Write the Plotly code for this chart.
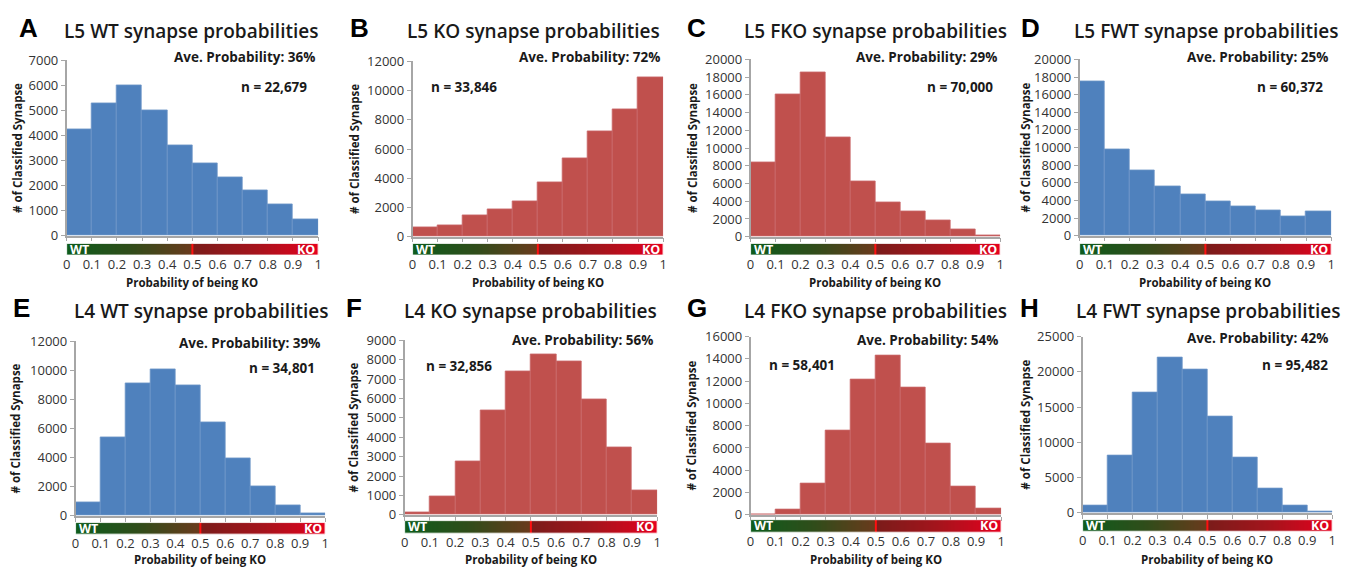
import plotly.graph_objects as go

W, H = 1361, 580

# ---------------- data ----------------
BIN_CENTERS = [0.05, 0.15, 0.25, 0.35, 0.45, 0.55, 0.65, 0.75, 0.85, 0.95]
TICK_VALS = [0, 0.1, 0.2, 0.3, 0.4, 0.5, 0.6, 0.7, 0.8, 0.9, 1]
TICK_TEXT = ["0", "0.1", "0.2", "0.3", "0.4", "0.5", "0.6", "0.7", "0.8", "0.9", "1"]
THRESHOLD = 0.5

LETTERS = ["A", "B", "C", "D", "E", "F", "G", "H"]
TITLES = ["L5 WT synapse probabilities", "L5 KO synapse probabilities",
          "L5 FKO synapse probabilities", "L5 FWT synapse probabilities",
          "L4 WT synapse probabilities", "L4 KO synapse probabilities",
          "L4 FKO synapse probabilities", "L4 FWT synapse probabilities"]
AVE_TEXT = ["Ave. Probability: 36%", "Ave. Probability: 72%", "Ave. Probability: 29%",
            "Ave. Probability: 25%", "Ave. Probability: 39%", "Ave. Probability: 56%",
            "Ave. Probability: 54%", "Ave. Probability: 42%"]
N_TEXT = ["n = 22,679", "n = 33,846", "n = 70,000", "n = 60,372",
          "n = 34,801", "n = 32,856", "n = 58,401", "n = 95,482"]

L5_WT = [4250, 5300, 6000, 5000, 3600, 2900, 2350, 1800, 1250, 650]
L5_KO = [650, 800, 1450, 1850, 2400, 3700, 5350, 7200, 8700, 10900]
L5_FKO = [8400, 16000, 18500, 11200, 6200, 3900, 2900, 1800, 850, 150]
L5_FWT = [17500, 9850, 7450, 5600, 4650, 3950, 3300, 2850, 2200, 2750]
L4_WT = [900, 5400, 9100, 10100, 9000, 6400, 3950, 2000, 750, 150]
L4_KO = [100, 950, 2750, 5400, 7400, 8300, 7900, 5950, 3500, 1250]
L4_FKO = [0, 450, 2850, 7600, 12100, 14300, 11400, 6400, 2550, 550]
L4_FWT = [1000, 8100, 17100, 22000, 20300, 13700, 7800, 3400, 1100, 250]
SERIES = [L5_WT, L5_KO, L5_FKO, L5_FWT, L4_WT, L4_KO, L4_FKO, L4_FWT]

Y_MAX = [7000, 12000, 20000, 20000, 12000, 9000, 16000, 25000]
Y_DTICK = [1000, 2000, 2000, 2000, 2000, 1000, 2000, 5000]

# ---------------- styling / layout (pixels) ----------------
BLUE, BLUE_EDGE = "#4f81bd", "#6d95c8"
RED, RED_EDGE = "#c0504d", "#c9676a"
COLORS = [(BLUE, BLUE_EDGE), (RED, RED_EDGE), (RED, RED_EDGE), (BLUE, BLUE_EDGE),
          (BLUE, BLUE_EDGE), (RED, RED_EDGE), (RED, RED_EDGE), (BLUE, BLUE_EDGE)]

# plot area: x0, x1, ytop, ybottom ; colour bar: top, bottom
PLOT = [(63, 316, 53, 234), (411, 663, 54, 235), (751, 1002, 52, 235), (1082, 1335, 52, 234),
        (72, 323, 343, 523), (403, 657, 342, 522), (751, 1003, 338, 522), (1085, 1336, 338, 520)]
CBAR = [(242, 254), (242, 254), (242, 254), (242, 254),
        (530, 542), (528, 541), (527, 540), (527, 539)]
TITLE_POS = [(188, 23), (533, 23), (877, 23), (1210, 23),
             (198, 312), (530, 312), (877, 312), (1212, 312)]
LETTER_POS = [(25, 20), (358, 20), (697, 20), (1033, 20),
              (18, 309), (352, 309), (697, 309), (1032, 309)]
AVE_POS = [(315, 50), (662, 50), (1001, 50), (1334, 50),
           (320, 345), (655, 342), (1002, 342), (1334, 340)]
N_POS = [(307, 80, "right"), (428, 80, "left"), (997, 80, "right"), (1329, 80, "right"),
         (315, 371, "right"), (422, 368, "left"), (768, 367, "left"), (1334, 367, "right")]
YT_X = [13, 352, 692, 1028, 12, 352, 692, 1028]
XT_Y = [282, 282, 282, 282, 568, 568, 568, 568]

FONT = "Open Sans"
TXT = "#1a1a1a"
TICK_C = "#333333"
GRID = "#a6a6a6"


def px(x):
    return x / W


def py(y):
    return 1 - y / H


CSCALE = [[0.0, "#0d5c1c"], [0.25, "#2f4d1a"], [0.5, "#6a3a1c"],
          [0.5001, "#7a1c1a"], [0.75, "#a5141c"], [1.0, "#e6001e"]]
GRAD_X = [(i + 0.5) / 200 for i in range(200)]

fig = go.Figure()
layout = dict(width=W, height=H, margin=dict(l=0, r=0, t=0, b=0),
              paper_bgcolor="white", plot_bgcolor="white", showlegend=False,
              font=dict(family=FONT, color=TXT))
annotations = []
shapes = []

for i in range(8):
    m = i + 1
    c = i + 9
    x0, x1, yt, yb = PLOT[i]
    ct, cb = CBAR[i]
    fill, edge = COLORS[i]

    fig.add_trace(go.Bar(x=BIN_CENTERS, y=SERIES[i], width=0.1,
                         marker=dict(color=fill, line=dict(color=edge, width=0.8)),
                         xaxis=f"x{m}", yaxis=f"y{m}", hoverinfo="x+y"))
    fig.add_trace(go.Heatmap(x=GRAD_X, y=[0], z=[GRAD_X], colorscale=CSCALE,
                             zmin=0, zmax=1, showscale=False,
                             xaxis=f"x{c}", yaxis=f"y{c}", hoverinfo="skip"))

    k = "" if m == 1 else str(m)
    layout[f"xaxis{k}"] = dict(domain=[px(x0), px(x1)], anchor=f"y{m}", range=[0, 1],
                               showline=True, linecolor=GRID, linewidth=1.5,
                               ticks="outside", ticklen=4, tickcolor=GRID,
                               tickvals=TICK_VALS, showticklabels=False,
                               showgrid=False, zeroline=False, fixedrange=True)
    layout[f"yaxis{m}"] = dict(domain=[py(yb), py(yt)], anchor=f"x{m}",
                               range=[0, Y_MAX[i]], dtick=Y_DTICK[i], tickformat="d",
                               showline=True, linecolor=GRID, linewidth=1.5,
                               ticks="outside", ticklen=4, tickcolor=GRID,
                               tickfont=dict(size=13, color=TICK_C),
                               showgrid=False, zeroline=False, fixedrange=True)
    layout[f"xaxis{c}"] = dict(domain=[px(x0), px(x1)], anchor=f"y{c}", range=[0, 1],
                               tickvals=TICK_VALS, ticktext=TICK_TEXT, ticks="",
                               tickfont=dict(size=13, color=TICK_C),
                               showline=False, showgrid=False, zeroline=False,
                               fixedrange=True)
    layout[f"yaxis{c}"] = dict(domain=[py(cb), py(ct)], anchor=f"x{c}",
                               range=[-0.5, 0.5], visible=False, fixedrange=True)

    shapes.append(dict(type="line", xref=f"x{c}", yref=f"y{c}", x0=THRESHOLD, x1=THRESHOLD,
                       y0=-0.5, y1=0.5, line=dict(color="#ff1010", width=2)))
    shapes.append(dict(type="rect", xref=f"x{c}", yref=f"y{c}", x0=0, x1=1,
                       y0=-0.5, y1=0.5, line=dict(color="white", width=1)))

    annotations.append(dict(text="WT", xref=f"x{c}", yref=f"y{c}", x=0.005, y=0,
                            xanchor="left", yanchor="middle", showarrow=False,
                            font=dict(size=12.5, color="white", family=FONT, weight="bold")))
    annotations.append(dict(text="KO", xref=f"x{c}", yref=f"y{c}", x=0.995, y=0,
                            xanchor="right", yanchor="middle", showarrow=False,
                            font=dict(size=12.5, color="white", family=FONT, weight="bold")))

    tx, ty = TITLE_POS[i]
    annotations.append(dict(text=TITLES[i], xref="paper", yref="paper", x=px(tx), y=py(ty),
                            xanchor="center", yanchor="middle", showarrow=False,
                            font=dict(size=19, color=TXT, family=FONT, weight=600)))
    lx, ly = LETTER_POS[i]
    annotations.append(dict(text=LETTERS[i], xref="paper", yref="paper", x=px(lx), y=py(ly),
                            xanchor="center", yanchor="middle", showarrow=False,
                            font=dict(size=26, color="black", family="Liberation Sans",
                                      weight="bold")))
    ax_, ay_ = AVE_POS[i]
    annotations.append(dict(text=AVE_TEXT[i], xref="paper", yref="paper", x=px(ax_), y=py(ay_),
                            xanchor="right", yanchor="middle", showarrow=False,
                            font=dict(size=13.5, color=TXT, family=FONT, weight="bold")))
    nx, ny, na = N_POS[i]
    annotations.append(dict(text=N_TEXT[i], xref="paper", yref="paper", x=px(nx), y=py(ny),
                            xanchor=na, yanchor="middle", showarrow=False,
                            font=dict(size=13.5, color=TXT, family=FONT, weight="bold")))
    annotations.append(dict(text="# of Classified Synapse", xref="paper", yref="paper",
                            x=px(YT_X[i]), y=py((yt + yb) / 2), textangle=-90,
                            xanchor="center", yanchor="middle", showarrow=False,
                            font=dict(size=11.5, color=TXT, family=FONT, weight="bold")))
    annotations.append(dict(text="Probability of being KO", xref="paper", yref="paper",
                            x=px((x0 + x1) / 2), y=py(XT_Y[i]),
                            xanchor="center", yanchor="middle", showarrow=False,
                            font=dict(size=11.5, color=TXT, family=FONT, weight="bold")))

layout["annotations"] = annotations
layout["shapes"] = shapes
layout["bargap"] = 0
fig.update_layout(**layout)
fig.write_html("out.html", config={"displayModeBar": False},
               post_script="document.body.style.margin='0px';")
